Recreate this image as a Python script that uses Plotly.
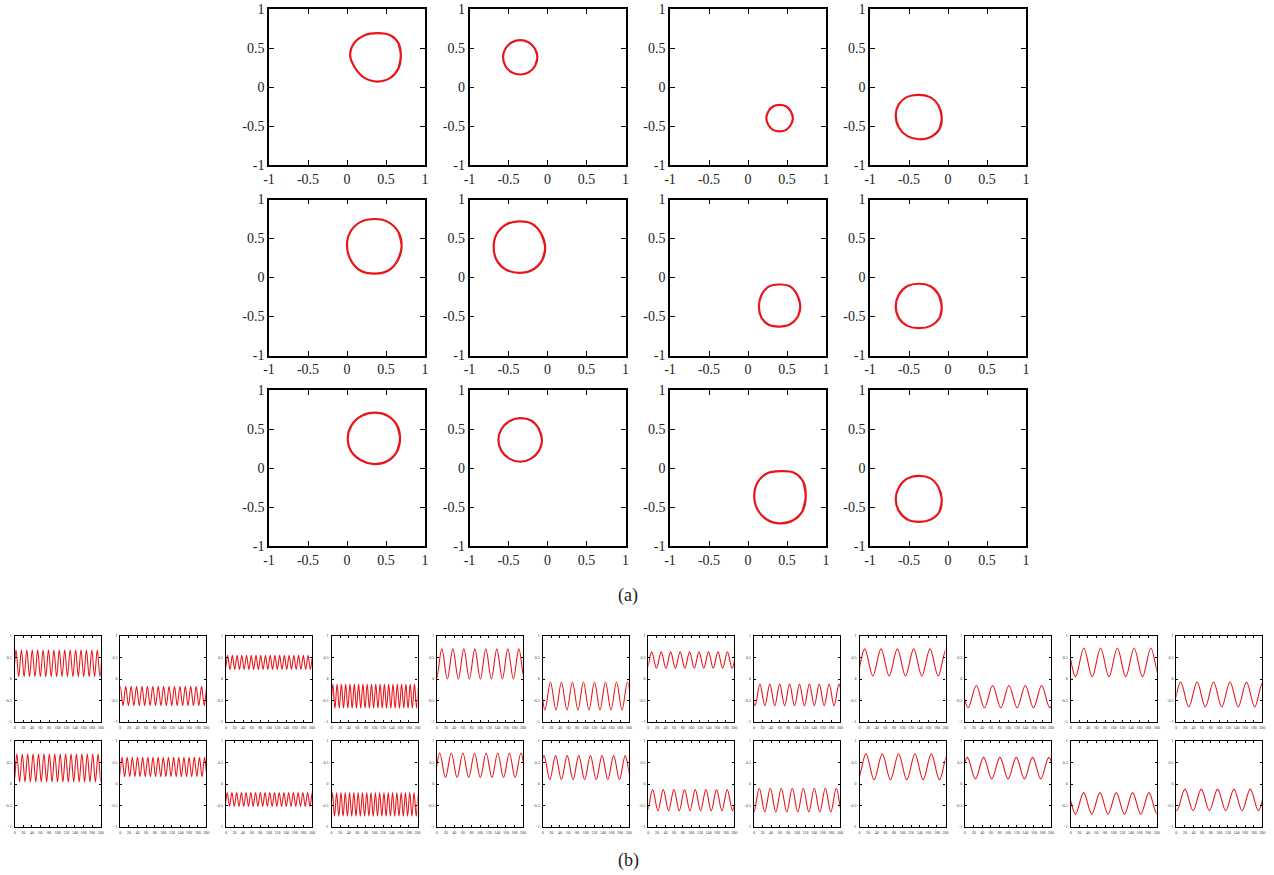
import math
import plotly.graph_objects as go

W, H = 1274, 875

# ---------------- (a) phase portraits: closed loops (x, y) ----------------
loop_x = [
    [0.69, 0.66, 0.56, 0.40, 0.22, 0.09, 0.04, 0.10, 0.22, 0.39, 0.56, 0.66],
    [-0.13, -0.16, -0.24, -0.35, -0.46, -0.54, -0.57, -0.54, -0.46, -0.35, -0.24, -0.16],
    [0.575, 0.55, 0.49, 0.405, 0.32, 0.26, 0.235, 0.26, 0.32, 0.405, 0.49, 0.55],
    [-0.08, -0.12, -0.23, -0.39, -0.53, -0.63, -0.67, -0.63, -0.52, -0.37, -0.22, -0.11],
    [0.70, 0.66, 0.53, 0.36, 0.17, 0.04, 0.00, 0.05, 0.17, 0.35, 0.53, 0.65],
    [-0.03, -0.08, -0.20, -0.37, -0.53, -0.65, -0.69, -0.65, -0.53, -0.36, -0.19, -0.07],
    [0.67, 0.63, 0.53, 0.39, 0.26, 0.17, 0.14, 0.17, 0.27, 0.40, 0.54, 0.64],
    [-0.08, -0.12, -0.23, -0.38, -0.52, -0.63, -0.67, -0.63, -0.52, -0.37, -0.22, -0.11],
    [0.68, 0.64, 0.52, 0.36, 0.19, 0.06, 0.01, 0.05, 0.18, 0.35, 0.52, 0.64],
    [-0.07, -0.11, -0.21, -0.36, -0.49, -0.59, -0.63, -0.59, -0.49, -0.35, -0.21, -0.11],
    [0.74, 0.71, 0.59, 0.42, 0.24, 0.12, 0.08, 0.12, 0.24, 0.41, 0.58, 0.70],
    [-0.08, -0.12, -0.23, -0.38, -0.53, -0.63, -0.67, -0.63, -0.52, -0.37, -0.22, -0.11],
]
loop_y = [
    [0.40, 0.56, 0.66, 0.69, 0.66, 0.56, 0.41, 0.25, 0.12, 0.07, 0.12, 0.24],
    [0.38, 0.49, 0.57, 0.60, 0.57, 0.49, 0.38, 0.27, 0.19, 0.16, 0.19, 0.27],
    [-0.40, -0.315, -0.25, -0.23, -0.25, -0.315, -0.40, -0.485, -0.55, -0.57, -0.55, -0.485],
    [-0.39, -0.24, -0.13, -0.10, -0.13, -0.22, -0.36, -0.52, -0.63, -0.67, -0.64, -0.54],
    [0.39, 0.58, 0.71, 0.75, 0.71, 0.58, 0.40, 0.22, 0.09, 0.05, 0.09, 0.22],
    [0.38, 0.56, 0.69, 0.72, 0.68, 0.56, 0.39, 0.22, 0.10, 0.06, 0.10, 0.22],
    [-0.37, -0.22, -0.11, -0.09, -0.12, -0.23, -0.37, -0.51, -0.61, -0.63, -0.60, -0.50],
    [-0.38, -0.22, -0.11, -0.08, -0.11, -0.22, -0.37, -0.52, -0.62, -0.65, -0.62, -0.52],
    [0.38, 0.55, 0.67, 0.71, 0.67, 0.55, 0.39, 0.22, 0.10, 0.05, 0.09, 0.21],
    [0.35, 0.50, 0.61, 0.64, 0.60, 0.50, 0.36, 0.22, 0.12, 0.08, 0.12, 0.22],
    [-0.37, -0.18, -0.06, -0.04, -0.07, -0.19, -0.36, -0.53, -0.66, -0.71, -0.67, -0.55],
    [-0.41, -0.25, -0.13, -0.10, -0.14, -0.25, -0.40, -0.55, -0.66, -0.69, -0.66, -0.56],
]

# ---------------- (b) time series: oscillation extremes ----------------
ts_low = [0.05, -0.62, 0.22, -0.68, 0.00, -0.72, 0.25, -0.62, 0.07, -0.67, 0.05, -0.65,
          0.05, 0.17, -0.52, -0.75, 0.15, 0.10, -0.62, -0.65, 0.10, 0.12, -0.70, -0.62]
ts_high = [0.68, -0.17, 0.55, -0.12, 0.70, -0.07, 0.63, -0.12, 0.70, -0.15, 0.72, -0.07,
           0.70, 0.62, -0.20, -0.20, 0.72, 0.66, -0.13, -0.10, 0.70, 0.62, -0.20, -0.12]
ts_period = [12.6, 12.6, 11.0, 10.0, 25.6, 25.6, 22.0, 23.0, 38.0, 38.0, 39.0, 38.3,
             12.6, 12.0, 11.0, 10.0, 27.0, 27.0, 24.8, 25.6, 38.0, 38.0, 38.0, 38.0]
ts_first_peak = [3.0, 0.0, 4.0, 3.0, 11.0, 18.0, 8.0, 14.0, 12.0, 26.0, 30.5, 10.0,
                 5.0, 4.0, 3.0, 2.0, 6.0, 3.0, 10.0, 12.5, 15.0, 5.0, 30.0, 20.0]

a_ticks = [-1, -0.5, 0, 0.5, 1]
a_ticktext = ["-1", "-0.5", "0", "0.5", "1"]
b_xticks = [0, 20, 40, 60, 80, 100, 120, 140, 160, 180, 200]
b_yticks = [-1, -0.5, 0, 0.5, 1]

RED = "#e8161b"
FONT = "Liberation Serif"

# layout geometry (pixels)
a_left = [269, 469.5, 670, 870]
a_top = [9, 199.5, 390]
a_size = 156
b_left = [14.7 + 105.6 * i for i in range(12)]
b_top = [636, 741]
b_size = 86

fig = go.Figure()
layout = {}


def dom(left, top, w, h):
    return [left / W, (left + w) / W], [1 - (top + h) / H, 1 - top / H]


idx = 0
for r in range(3):
    for c in range(4):
        p = r * 4 + c
        idx += 1
        xs = loop_x[p]
        ys = loop_y[p]
        px = [xs[-1]] + xs + xs[:2]
        py = [ys[-1]] + ys + ys[:2]
        sfx = "" if idx == 1 else str(idx)
        fig.add_trace(go.Scatter(x=px, y=py, mode="lines",
                                 line=dict(color=RED, width=2.2, shape="spline", smoothing=1.0),
                                 xaxis="x" + sfx, yaxis="y" + sfx, showlegend=False,
                                 hoverinfo="skip"))
        xd, yd = dom(a_left[c], a_top[r], a_size, a_size)
        common = dict(range=[-1, 1], tickvals=a_ticks, ticktext=a_ticktext,
                      ticks="inside", ticklen=5, tickwidth=1, tickcolor="black",
                      showline=True, linecolor="black", linewidth=1.6, mirror="ticks",
                      showgrid=False, zeroline=False, fixedrange=True, automargin=False,
                      ticklabeloverflow="allow",
                      tickfont=dict(family=FONT, size=14, color="#222"))
        layout["xaxis" + sfx] = dict(domain=xd, anchor="y" + sfx, **common)
        layout["yaxis" + sfx] = dict(domain=yd, anchor="x" + sfx, **common)

for r in range(2):
    for c in range(12):
        p = r * 12 + c
        idx += 1
        sfx = str(idx)
        half = ts_period[p] / 2.0
        t0 = ts_first_peak[p]
        k = math.floor(-t0 / half) - 1
        tt, vv = [], []
        while True:
            t = t0 + k * half
            tt.append(t)
            vv.append(ts_high[p] if k % 2 == 0 else ts_low[p])
            if t > 200 + half:
                break
            k += 1
        fig.add_trace(go.Scatter(x=tt, y=vv, mode="lines",
                                 line=dict(color=RED, width=1.1, shape="spline", smoothing=1.0),
                                 xaxis="x" + sfx, yaxis="y" + sfx, showlegend=False,
                                 hoverinfo="skip"))
        xd, yd = dom(b_left[c], b_top[r], b_size, b_size)
        common = dict(ticks="inside", ticklen=2, tickwidth=0.8, tickcolor="black",
                      showline=True, linecolor="black", linewidth=1.2, mirror="ticks",
                      showgrid=False, zeroline=False, fixedrange=True, automargin=False,
                      ticklabeloverflow="allow",
                      tickfont=dict(family=FONT, size=4, color="#333"))
        layout["xaxis" + sfx] = dict(domain=xd, anchor="y" + sfx, range=[0, 200],
                                     tickvals=b_xticks, ticklabelstandoff=1, **common)
        layout["yaxis" + sfx] = dict(domain=yd, anchor="x" + sfx, range=[-1, 1],
                                     tickvals=b_yticks, ticklabelstandoff=1, **common)

fig.update_layout(
    width=W, height=H,
    margin=dict(l=0, r=0, t=0, b=0, autoexpand=False),
    paper_bgcolor="white", plot_bgcolor="white",
    showlegend=False,
    annotations=[
        dict(text="(a)", x=628 / W, y=1 - 595 / H, xref="paper", yref="paper",
             xanchor="center", yanchor="middle",
             showarrow=False, font=dict(family=FONT, size=18, color="#222")),
        dict(text="(b)", x=628 / W, y=1 - 860 / H, xref="paper", yref="paper",
             xanchor="center", yanchor="middle",
             showarrow=False, font=dict(family=FONT, size=18, color="#222")),
    ],
    **layout,
)

fig.write_html("out.html")
